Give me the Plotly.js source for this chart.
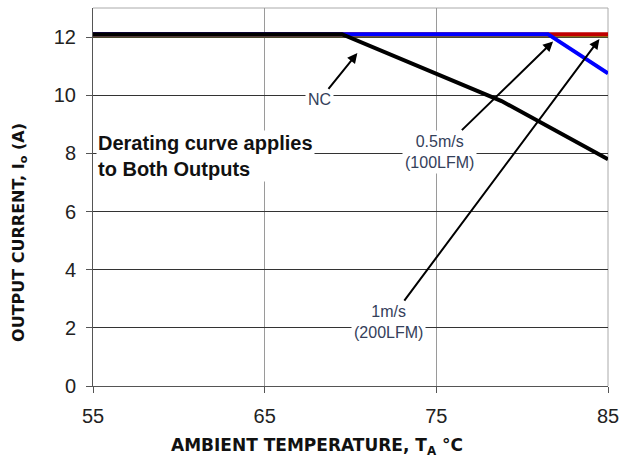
<!DOCTYPE html>
<html>
<head>
<meta charset="utf-8">
<script src="https://cdn.plot.ly/plotly-3.0.1.min.js"></script>
<style>html,body{margin:0;padding:0;background:#fff;}#chart{width:636px;height:462px;}</style>
</head>
<body>
<div id="chart"></div>
<script>
// Data
const tempOlive = [55, 85];
const curOlive = [12.03, 12.03];
const temp1ms = [55, 85];
const cur1ms = [12.1, 12.1];
const temp05ms = [55, 81.5, 85];
const cur05ms = [12.1, 12.1, 10.75];
const tempNC = [55, 69.5, 78.8, 85];
const curNC = [12.1, 12.1, 9.8, 7.8];
const xTicks = [55, 65, 75, 85];
const yTicks = [0, 2, 4, 6, 8, 10, 12];

const traces = [
  {x: tempOlive, y: curOlive, mode: 'lines', line: {color: '#8c8a1e', width: 2}, hoverinfo: 'skip'},
  {x: temp1ms, y: cur1ms, mode: 'lines', line: {color: '#c00000', width: 4}, hoverinfo: 'skip'},
  {x: temp05ms, y: cur05ms, mode: 'lines', line: {color: '#0000ff', width: 4}, hoverinfo: 'skip'},
  {x: tempNC, y: curNC, mode: 'lines', line: {color: '#000000', width: 4}, hoverinfo: 'skip'}
];

const annFont = {family: 'Liberation Sans, Arial, sans-serif', size: 16, color: '#34405a'};
const titleFont = {family: 'DejaVu Sans, sans-serif', size: 17, color: '#111', weight: 'bold'};
const yTitleFont = {family: 'DejaVu Sans, sans-serif', size: 16, color: '#111', weight: 'bold'};

const layout = {
  width: 636, height: 462,
  margin: {l: 93, r: 28, t: 8, b: 76},
  showlegend: false,
  paper_bgcolor: '#fff', plot_bgcolor: '#fff',
  xaxis: {
    range: [55, 85], tickvals: xTicks, ticktext: xTicks.map(String),
    showgrid: true, gridcolor: '#9a9a9a', gridwidth: 1,
    showline: true, linecolor: '#555', linewidth: 1,
    ticks: 'outside', ticklen: 6, tickcolor: '#555',
    ticklabelstandoff: 6,
    zeroline: false,
    tickfont: {family: 'Liberation Sans, Arial, sans-serif', size: 20, color: '#222'}
  },
  yaxis: {
    range: [0, 13], tickvals: yTicks, ticktext: yTicks.map(String),
    showgrid: true, gridcolor: '#333', gridwidth: 1,
    showline: true, linecolor: '#555', linewidth: 1,
    ticks: 'outside', ticklen: 6, tickcolor: '#555',
    ticklabelstandoff: 6,
    zeroline: false,
    tickfont: {family: 'Liberation Sans, Arial, sans-serif', size: 20, color: '#222'}
  },
  shapes: [
    {type: 'line', xref: 'paper', yref: 'paper', x0: 0, x1: 1, y0: 1, y1: 1, line: {color: '#aaa', width: 1}, layer: 'below'},
    {type: 'line', xref: 'paper', yref: 'paper', x0: 1, x1: 1, y0: 0, y1: 1, line: {color: '#aaa', width: 1}, layer: 'below'}
  ],
  annotations: [
    {x: 0.435, y: -0.161, xref: 'paper', yref: 'paper', xanchor: 'center', yanchor: 'middle',
     text: 'AMBIENT TEMPERATURE, T<sub>A</sub> °C', showarrow: false, font: titleFont},
    {x: -0.1417, y: 0.405, xref: 'paper', yref: 'paper', xanchor: 'center', yanchor: 'middle', textangle: -90,
     text: 'OUTPUT CURRENT, I<sub>o</sub> (A)', showarrow: false, font: yTitleFont},
    {x: 70.4, y: 11.45, ax: 68.2, ay: 9.84, axref: 'x', ayref: 'y', xref: 'x', yref: 'y',
     text: 'NC', showarrow: true, arrowhead: 2, arrowsize: 1, arrowwidth: 2, arrowcolor: '#000',
     font: annFont, bgcolor: '#fff', borderpad: 2},
    {x: 81.8, y: 11.85, ax: 75.2, ay: 8.06, axref: 'x', ayref: 'y', xref: 'x', yref: 'y',
     text: '0.5m/s<br>(100LFM)', showarrow: true, arrowhead: 2, arrowsize: 1, arrowwidth: 2, arrowcolor: '#000',
     font: annFont, bgcolor: '#fff', borderpad: 2},
    {x: 84.5, y: 11.93, ax: 72.2, ay: 2.2, axref: 'x', ayref: 'y', xref: 'x', yref: 'y',
     text: '1m/s<br>(200LFM)', showarrow: true, arrowhead: 2, arrowsize: 1, arrowwidth: 2, arrowcolor: '#000',
     font: annFont, bgcolor: '#fff', borderpad: 2},
    {x: 55.2, y: 7.92, xref: 'x', yref: 'y', xanchor: 'left', yanchor: 'middle', align: 'left',
     text: '<b>Derating curve applies<br>to Both Outputs</b>', showarrow: false,
     font: {family: 'Liberation Sans, Arial, sans-serif', size: 20, color: '#111'}, bgcolor: '#fff', borderpad: 1}
  ]
};

Plotly.newPlot('chart', traces, layout, {displayModeBar: false, staticPlot: true});
</script>
</body>
</html>
